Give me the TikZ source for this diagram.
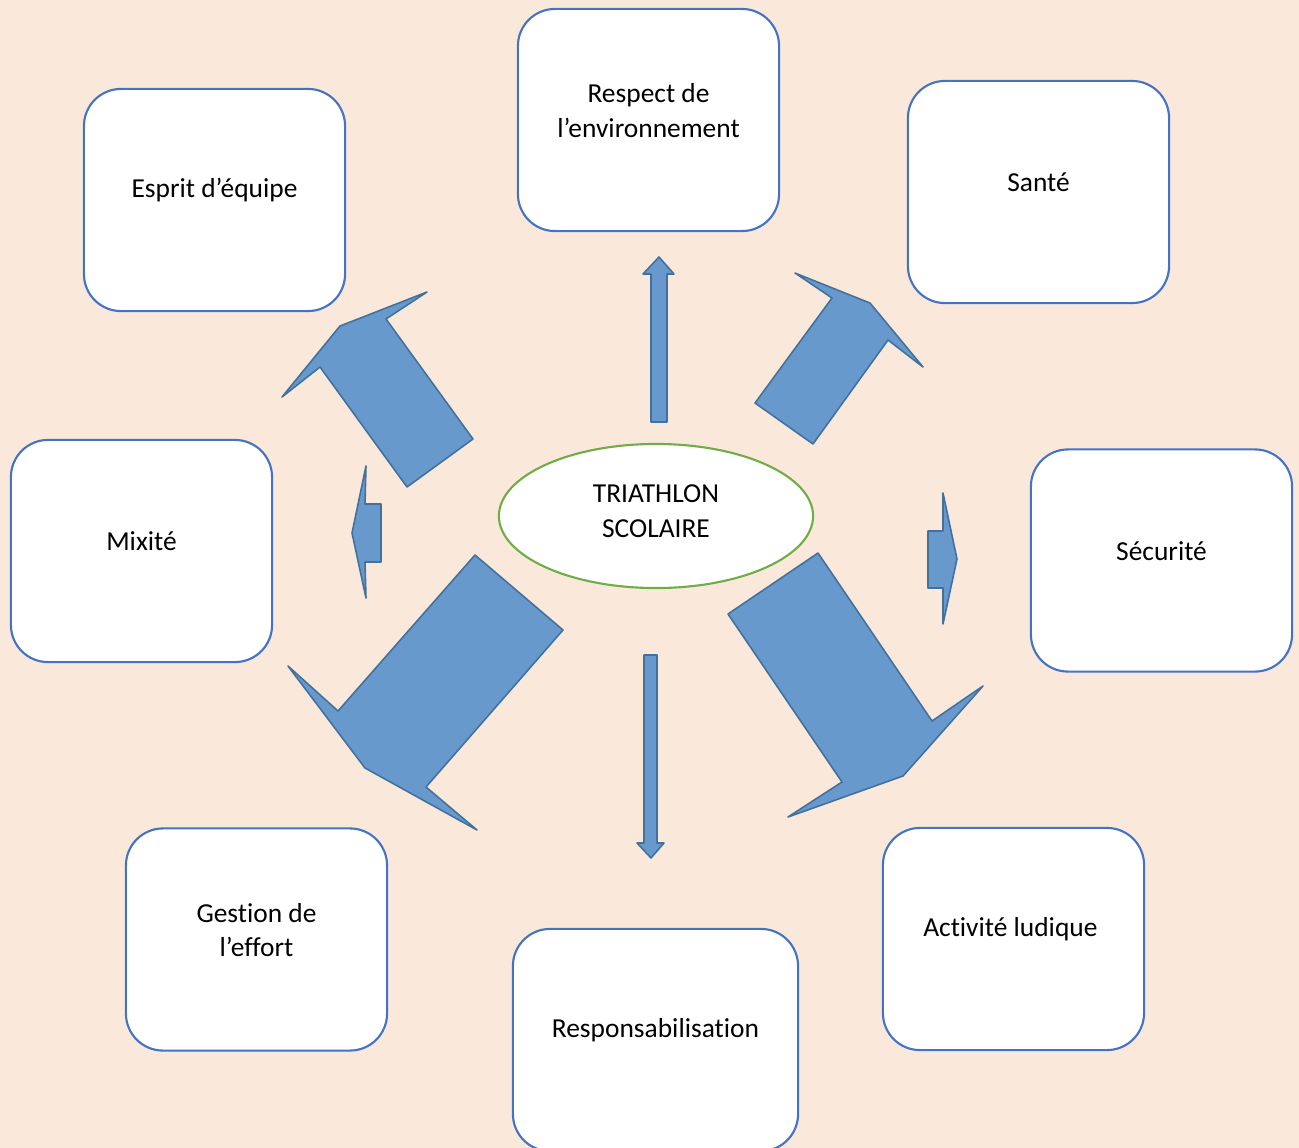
\documentclass[tikz,border=0pt]{standalone}
\usepackage{fontspec}
\setmainfont[Ligatures=NoCommon]{Carlito}
\usetikzlibrary{shapes.geometric}
\definecolor{bgpeach}{RGB}{250,232,219}
\definecolor{boxblue}{RGB}{68,114,196}
\definecolor{arrowfill}{RGB}{104,153,205}
\definecolor{arrowline}{RGB}{65,113,156}
\definecolor{ovalgreen}{RGB}{112,173,71}
\begin{document}
\begin{tikzpicture}[x=0.01cm, y=-0.01cm,
    box/.style={draw=boxblue, line width=0.6pt, fill=white, rounded corners=0.37cm,
      minimum height=2.22cm, inner sep=0pt},
    txt/.style={align=center, font=\fontsize{7.8}{9.8}\selectfont},
    blockarrow/.style={draw=arrowline, fill=arrowfill, line width=0.45pt, line join=round}]

	\useasboundingbox (0,0) rectangle (1299,1148);
	\fill[bgpeach] (0,0) rectangle (1299,1148);
	\clip (0,0) rectangle (1299,1148);

	% Central oval
	\node[ellipse, draw=ovalgreen, line width=0.6pt, fill=white, minimum width=3.14cm,
		minimum height=1.44cm, inner sep=0pt] (triathlon) at (656,516) {};
	\node[txt] (triathlon-txt) at ([yshift=0.05cm]triathlon.center) {TRIATHLON\\SCOLAIRE};

	% The eight boxes, text a little above the middle
	\foreach \name/\x/\y/\w/\txt in {
			respect/648.5/120/2.61/{Respect de\\l’environnement},
			esprit/214.5/200/2.61/{Esprit d’équipe},
			sante/1038.5/192/2.61/{Santé},
			mixite/141.5/551/2.61/{Mixité},
			securite/1161.5/560.5/2.61/{Sécurité},
			gestion/256.5/939.5/2.61/{Gestion de\\l’effort},
			respons/655.5/1040/2.85/{Responsabilisation},
			activite/1013.5/939/2.61/{Activité ludique}
		} {
			\node[box, minimum width=\w cm] (\name) at (\x,\y) {};
			\node[txt] (\name-txt) at ([yshift=0.095cm]\name.center) {\txt};
		}

	% Block arrows going out from the oval
	\draw[blockarrow] (651,422) -- (667,422) -- (667,274) -- (674,274) -- (659,257)
		-- (643,274) -- (651,274) -- cycle;
	\draw[blockarrow] (644,655) -- (657,655) -- (657,843) -- (664,843) -- (651,858)
		-- (637,843) -- (644,843) -- cycle;
	\draw[blockarrow] (381,504) -- (381,562) -- (365,562) -- (366,598) -- (352,533)
		-- (366,466) -- (365,504) -- cycle;
	\draw[blockarrow] (928,531) -- (943,531) -- (943,493) -- (957,559) -- (943,624)
		-- (943,588) -- (928,588) -- cycle;
	\draw[blockarrow] (473,439) -- (407,487) -- (320,367) -- (282,397) -- (340,326)
		-- (427,292) -- (386,319) -- cycle;
	\draw[blockarrow] (755,403) -- (832,298) -- (795,273) -- (870,303) -- (923,367)
		-- (888,340) -- (813,444) -- cycle;
	\draw[blockarrow] (475,555) -- (563,630) -- (426,787) -- (477,830) -- (365,768)
		-- (288,666) -- (338,711) -- cycle;
	\draw[blockarrow] (728,614) -- (818,553) -- (932,721) -- (983,686) -- (903,776)
		-- (788,817) -- (842,782) -- cycle;

\end{tikzpicture}
\end{document}
